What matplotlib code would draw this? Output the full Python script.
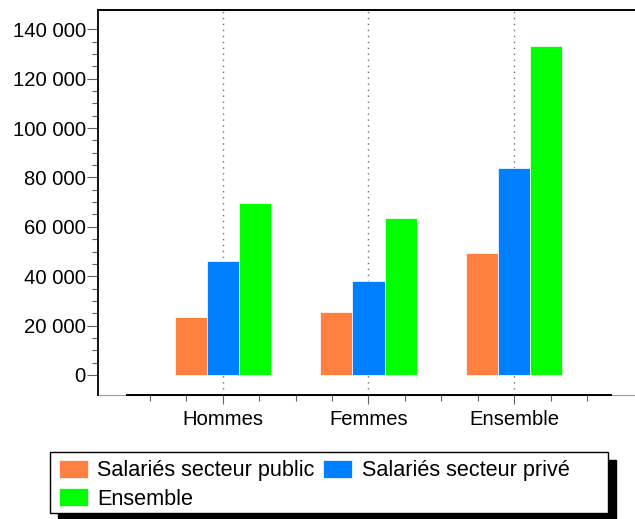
import matplotlib
matplotlib.use("Agg")
import matplotlib.pyplot as plt
from matplotlib.patches import Rectangle, Patch
from matplotlib.ticker import FixedLocator
import numpy as np

categories = ["Hommes", "Femmes", "Ensemble"]
series_names = ["Salariés secteur public", "Salariés secteur privé", "Ensemble"]
public = [23400, 25700, 49300]
prive = [46100, 37900, 84000]
ensemble = [69500, 63700, 133400]
colors = ["#FF8040", "#0080FF", "#00FF00"]
y_ticks = [0, 20000, 40000, 60000, 80000, 100000, 120000, 140000]
y_tick_labels = ["0", "20 000", "40 000", "60 000", "80 000", "100 000", "120 000", "140 000"]

plt.rcParams["font.family"] = ["Liberation Sans", "DejaVu Sans"]

W, H = 635, 519
fig = plt.figure(figsize=(W / 100, H / 100), dpi=100)
ax = fig.add_axes([98 / W, (H - 395) / H, (W - 98) / W, (395 - 10) / H])

x = np.arange(len(categories))
bw = 0.22
for i, (vals, c) in enumerate(zip([public, prive, ensemble], colors)):
    ax.bar(x + (i - 1) * bw, vals, bw, color=c, edgecolor="#ffffff", linewidth=0.5, zorder=3)

for xi in x:
    ax.axvline(xi, color="#707070", lw=1.0, linestyle=(0, (1.0, 3.3)), zorder=1)

ax.set_xlim(-0.855, 2.828)
ax.set_ylim(-8100, 147800)

ax.yaxis.set_major_locator(FixedLocator(y_ticks))
ax.set_yticklabels(y_tick_labels)
ax.yaxis.set_minor_locator(FixedLocator(np.arange(0, 140001, 5000)))
ax.xaxis.set_major_locator(FixedLocator(x))
ax.set_xticklabels(categories)
ax.xaxis.set_minor_locator(FixedLocator(np.arange(-0.5, 2.51, 0.25)))

ax.tick_params(axis="y", which="major", length=7.7, width=0.8, color="#606060", pad=1, labelsize=14.6)
ax.tick_params(axis="y", which="minor", length=4.3, width=0.8, color="#606060")
ax.tick_params(axis="x", which="major", length=6.5, width=0.8, color="#606060", pad=4.2, labelsize=14.6)
ax.tick_params(axis="x", which="minor", length=4.1, width=0.8, color="#606060")

ax.spines["right"].set_visible(False)
ax.spines["left"].set_linewidth(1.3)
ax.spines["top"].set_linewidth(1.4)
ax.spines["bottom"].set_linewidth(1.4)
ax.spines["bottom"].set_bounds(-0.655, 2.665)
ax.axhline(ax.get_ylim()[0], color="#9a9a9a", lw=0.8, clip_on=False, zorder=0.5)

# legend frame + shadow
def fr(x0, y0, x1, y1):
    return (x0 / W, 1 - y1 / H), (x1 - x0) / W, (y1 - y0) / H

xy, w, h = fr(58, 460, 616, 521)
fig.patches.append(Rectangle(xy, w, h, transform=fig.transFigure, facecolor="black", edgecolor="black", zorder=1))
xy, w, h = fr(50, 452, 608, 513)
fig.patches.append(Rectangle(xy, w, h, transform=fig.transFigure, facecolor="white", edgecolor="black", lw=1.0, zorder=2))

handles = [Patch(facecolor=c, edgecolor="#ffffff", lw=0.5) for c in colors]
order = [0, 2, 1]
leg = fig.legend([handles[i] for i in order], [series_names[i] for i in order],
                 loc="upper left", bbox_to_anchor=(59 / W, 1 - 459.5 / H), bbox_transform=fig.transFigure,
                 ncol=2, frameon=False, borderpad=0, borderaxespad=0, fontsize=15.6,
                 handlelength=1.32, handleheight=0.95, handletextpad=0.45, columnspacing=0.4,
                 labelspacing=0.3)
leg.set_zorder(5)

fig.savefig("out.png", dpi=100)
